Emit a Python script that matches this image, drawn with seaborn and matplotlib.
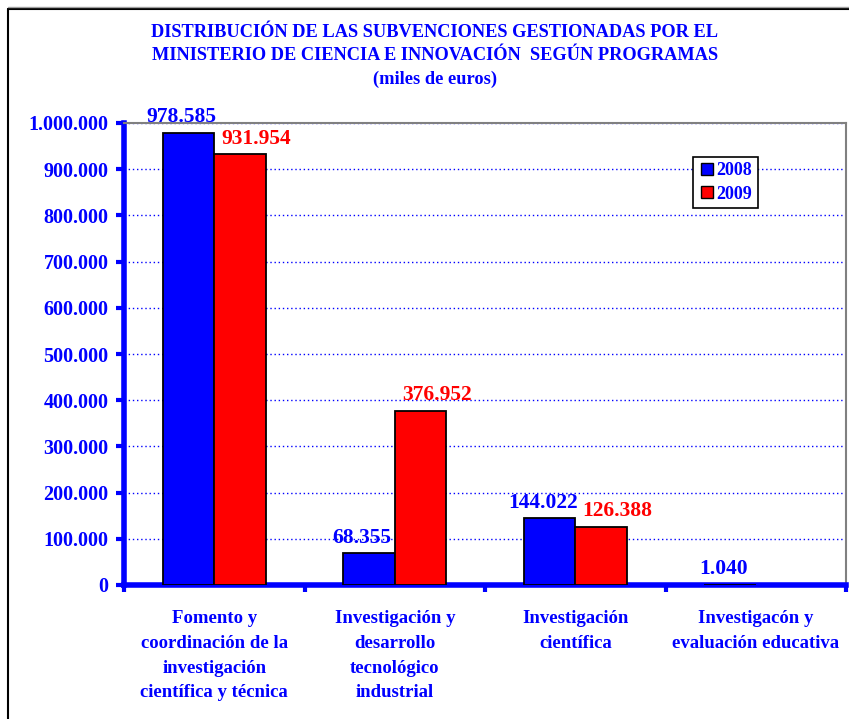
import numpy as np
import pandas as pd
import matplotlib
matplotlib.use('Agg')
import matplotlib.pyplot as plt
from matplotlib.lines import Line2D
from matplotlib.ticker import FuncFormatter, MultipleLocator, FixedLocator
import seaborn as sns

# ========== DATOS ==========
programas = ['Fomento y\ncoordinación de la\ninvestigación\ncientífica y técnica',
             'Investigación y\ndesarrollo\ntecnológico\nindustrial',
             'Investigación\ncientífica',
             'Investigacón y\nevaluación educativa']
anios = ['2008', '2009']
valores_2008 = [978585, 68355, 144022, 1040]
valores_2009 = [931954, 376952, 126388, np.nan]

titulo = ('DISTRIBUCIÓN DE LAS SUBVENCIONES GESTIONADAS POR EL\n'
          'MINISTERIO DE CIENCIA E INNOVACIÓN  SEGÚN PROGRAMAS\n'
          '(miles de euros)')

AZUL = '#0000FF'
ROJO = '#FF0000'

rows = []
for p, v8, v9 in zip(programas, valores_2008, valores_2009):
    rows.append({'programa': p, 'anio': '2008', 'valor': v8})
    if not np.isnan(v9):
        rows.append({'programa': p, 'anio': '2009', 'valor': v9})
df = pd.DataFrame(rows)

sns.set_theme(style='white')
plt.rcParams['font.family'] = ['Liberation Serif', 'DejaVu Serif']
plt.rcParams['font.weight'] = 'bold'

fig = plt.figure(figsize=(8.49, 7.19), dpi=100)
ax = fig.add_axes([124 / 849, 1 - 585 / 719, 722 / 849, 462 / 719])
ax.set_axisbelow(True)

sns.barplot(data=df, x='programa', y='valor', hue='anio', order=programas,
            hue_order=anios, palette=[AZUL, ROJO], saturation=1, width=0.57,
            edgecolor='black', linewidth=1.3, ax=ax, legend=True, zorder=3)

ax.set_xlim(-0.5, 3.5)
ax.set_ylim(0, 1000000)
ax.set_xlabel('')
ax.set_ylabel('')

# etiquetas de valores
fmt = lambda v: f'{int(v):,}'.replace(',', '.')
for cont, color, dx in zip(ax.containers, [AZUL, ROJO], [-5, 12]):
    for bar in cont:
        h = bar.get_height()
        if np.isnan(h):
            continue
        ax.annotate(fmt(h), (bar.get_x() + bar.get_width() / 2, h),
                    xytext=(dx, 4), textcoords='offset points',
                    ha='center', va='bottom', color=color,
                    fontsize=15.5, fontweight='bold', zorder=5, annotation_clip=False)

# ejes
ax.yaxis.set_major_locator(MultipleLocator(100000))
ax.yaxis.set_major_formatter(FuncFormatter(lambda v, _: fmt(v)))
ax.tick_params(axis='y', left=True, direction='out', length=6, width=3,
               color=AZUL, labelcolor=AZUL, labelsize=14.5, pad=5)
ax.xaxis.set_minor_locator(FixedLocator([-0.5, 0.5, 1.5, 2.5, 3.5]))
ax.tick_params(axis='x', which='major', length=0, labelcolor=AZUL,
               labelsize=13.5, pad=18)
ax.tick_params(axis='x', which='minor', bottom=True, direction='out',
               length=5, width=3, color=AZUL)
for lab in ax.get_xticklabels():
    lab.set_linespacing(1.6)
    lab.set_va('top')
for lab in ax.get_xticklabels() + ax.get_yticklabels():
    lab.set_fontweight('bold')

ax.grid(axis='y', color=AZUL, linestyle=(0, (1, 2)), linewidth=1)
ax.grid(axis='x', visible=False)

ax.spines['left'].set_color(AZUL)
ax.spines['left'].set_linewidth(4)
ax.spines['bottom'].set_color(AZUL)
ax.spines['bottom'].set_linewidth(4)
ax.spines['top'].set_color('#808080')
ax.spines['top'].set_linewidth(1.5)
ax.spines['top'].set_linestyle((0, (2, 1)))
ax.spines['right'].set_color('#808080')
ax.spines['right'].set_linewidth(1.5)
for s in ax.spines.values():
    s.set_visible(True)

# leyenda
handles = [Line2D([], [], marker='s', linestyle='', markersize=9,
                  markerfacecolor=c, markeredgecolor='black', markeredgewidth=1)
           for c in [AZUL, ROJO]]
leg = ax.legend(handles, anios, loc='upper left',
                bbox_to_anchor=((693 - 124) / 722, (585 - 157) / 462),
                frameon=True, fancybox=False, edgecolor='black', framealpha=1,
                handletextpad=0.1, handlelength=0.9, borderpad=0.3,
                borderaxespad=0, labelspacing=0.35,
                prop={'size': 13, 'weight': 'bold'})
leg.get_frame().set_linewidth(1.2)
for t in leg.get_texts():
    t.set_color(AZUL)

# título
fig.text(435 / 849, 1 - 24 / 719, titulo, ha='center', va='top', color=AZUL,
         fontsize=13.2, fontweight='bold', linespacing=1.5)

# marco exterior
fig.add_artist(Line2D([8 / 849, 8 / 849], [0, 1 - 9 / 719], color='black', lw=1.5))
fig.add_artist(Line2D([8 / 849, 1], [1 - 9 / 719, 1 - 9 / 719], color='black', lw=1.5))
fig.add_artist(Line2D([8 / 849, 1], [1 - 7 / 719, 1 - 7 / 719], color='#A0A0A0', lw=1))

fig.savefig('out.png', dpi=100)
